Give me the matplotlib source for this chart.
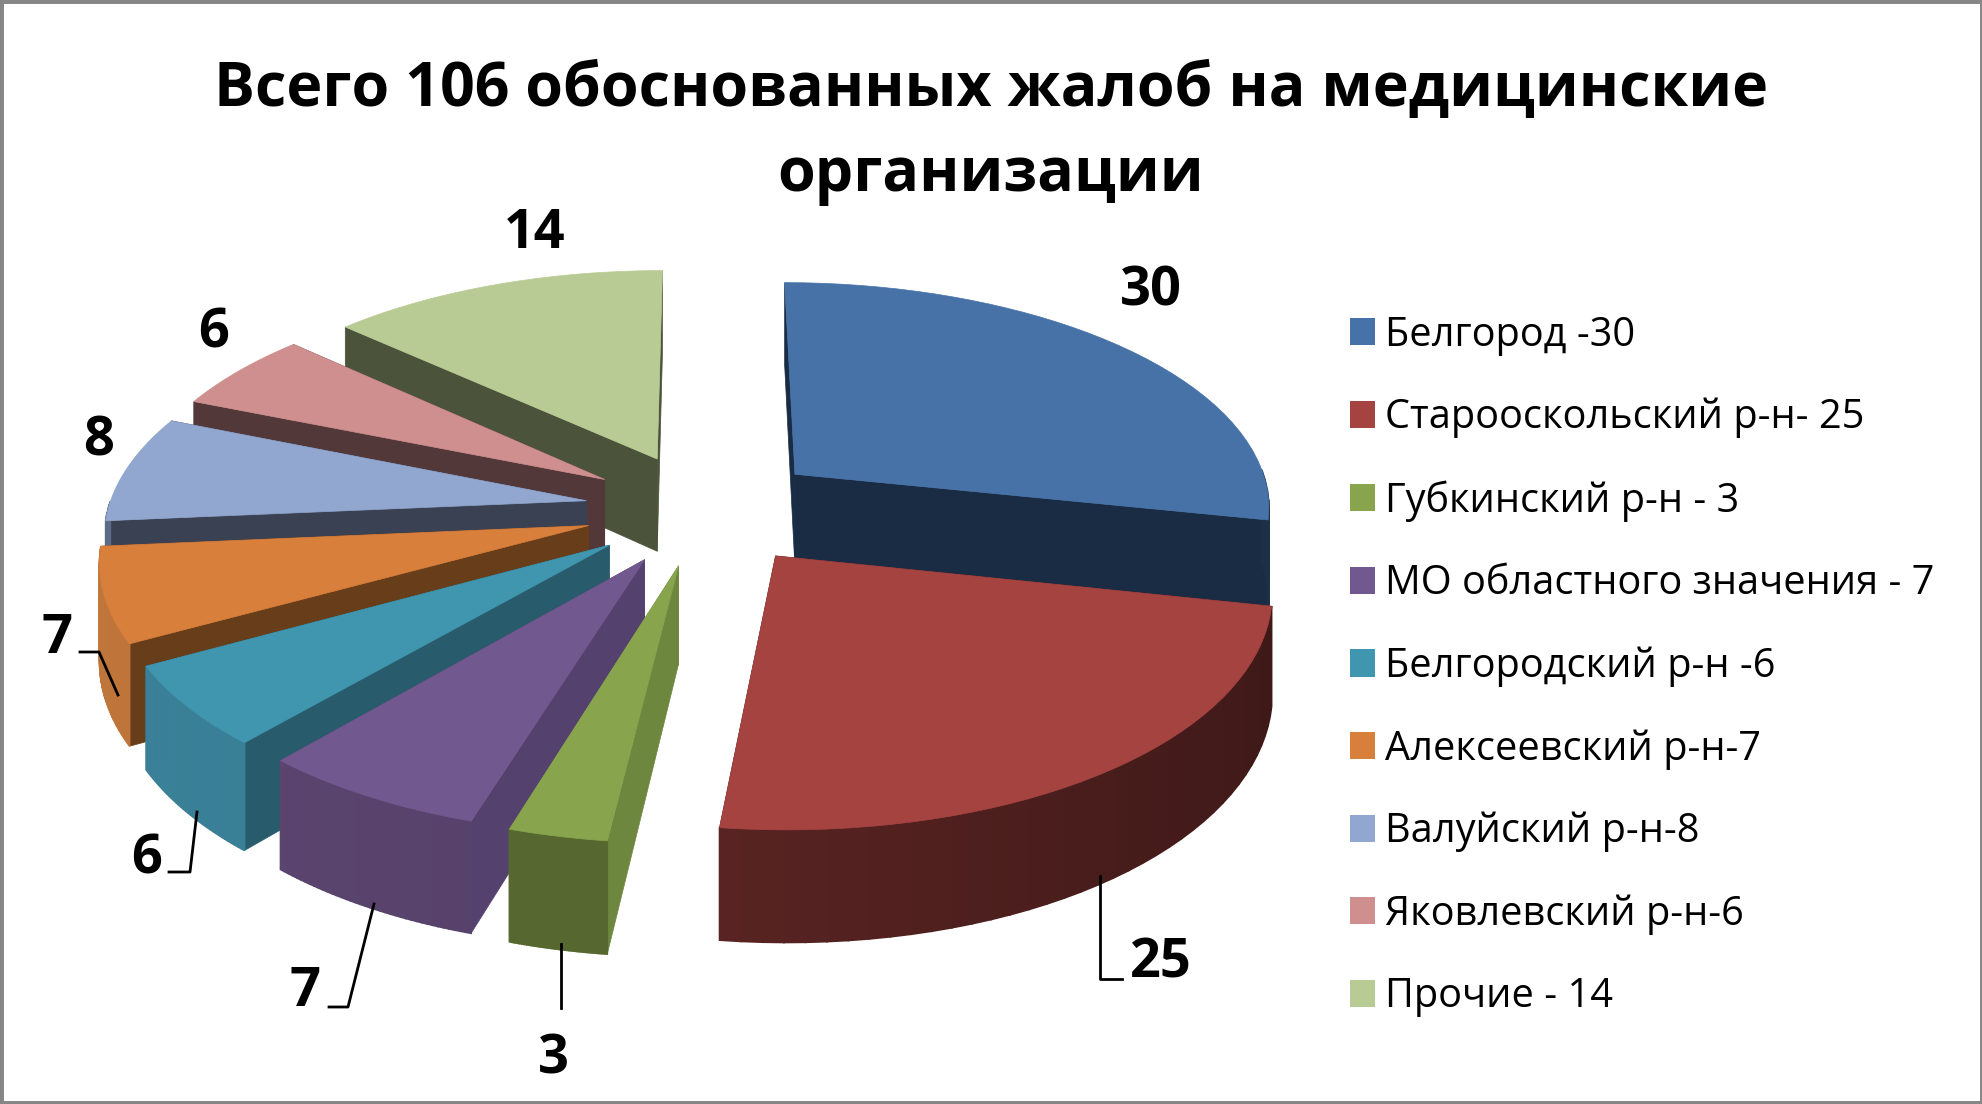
import numpy as np
import matplotlib
matplotlib.use("Agg")
import matplotlib.pyplot as plt
from matplotlib.patches import Polygon, Patch, Rectangle
from matplotlib.colors import to_rgb

title = "Всего 106 обоснованных жалоб на медицинские\nорганизации"
values = [30, 25, 3, 7, 6, 7, 8, 6, 14]
legend_names = ["Белгород -30", "Старооскольский р-н- 25", "Губкинский р-н - 3",
                "МО областного значения - 7", "Белгородский р-н -6", "Алексеевский р-н-7",
                "Валуйский р-н-8", "Яковлевский р-н-6", "Прочие - 14"]

top_colors = ["#4672A7", "#A54341", "#88A44D", "#71588E", "#4096AE", "#D87F3C", "#91A7CF", "#CF8F8E", "#B9CB94"]
side_colors = ["#192C44", "#451C1B", "#6E873E", "#55416E", "#285C6C", "#683D19", "#3A4152", "#53383A", "#4B533A"]
rim_left = ["#2C4A70", "#6E2C2A", "#5A6C32", "#5D4772", "#3A8199", "#C0763A", "#5C6B86", "#7A5352", "#6F7C5A"]
rim_right = ["#1C3048", "#3E1918", "#50622B", "#4D3960", "#357489", "#A9672F", "#505D75", "#6A4746", "#667350"]

# camera / pie shape, in image pixels
cx, cy = 704, 509
radius = 478
squash = 225
depth = 95
persp = 0.13
explode = 0.25

# where the number labels sit and their leader lines
label_pos = [(1151, 292), (1161, 964), (553, 1059), (305, 992), (147, 860), (57, 639), (99, 441), (214, 333), (535, 234)]
leaders = [None,
           [(1100, 876), (1100, 979), (1122, 979)],
           [(561, 944), (561, 1008)],
           [(374, 904), (348, 1007), (329, 1007)],
           [(197, 812), (190, 872), (169, 872)],
           [(118, 695), (99, 652), (80, 652)],
           None, None, None]


def project(x, y, z=0.0):
    w = 1 + persp * y
    return cx + radius * x / w, cy - squash * y / w + depth * z / w


def shade(a, b, t):
    a, b = np.array(to_rgb(a)), np.array(to_rgb(b))
    return tuple(a + (b - a) * t)


fig = plt.figure(figsize=(19.83, 11.04), dpi=100)
ax = fig.add_axes([0, 0, 1, 1])
ax.set_xlim(0, 1983)
ax.set_ylim(1104, 0)
ax.axis("off")
fig.patches.append(Rectangle((0, 0), 1, 1, transform=fig.transFigure, fill=False, ec="#868686", lw=5))

total = sum(values)
edges = np.cumsum([0] + values) / total * 2 * np.pi
mids = (edges[:-1] + edges[1:]) / 2

# back slices first
order = sorted(range(len(values)), key=lambda k: -np.cos(mids[k]))
for n, i in enumerate(order):
    a0, a1 = edges[i], edges[i + 1]
    ox, oy = explode * np.sin(mids[i]), explode * np.cos(mids[i])
    th = np.linspace(a0, a1, 40)
    rx, ry = ox + np.sin(th), oy + np.cos(th)
    z = n * 10

    # flat cut walls
    for a in (a0, a1):
        ex, ey = ox + np.sin(a), oy + np.cos(a)
        pts = [project(ox, oy), project(ex, ey), project(ex, ey, 1), project(ox, oy, 1)]
        ax.add_patch(Polygon(pts, fc=side_colors[i], ec=side_colors[i], lw=0.5, zorder=z))

    # rim, cut in strips so the shading can run across it; only the part facing us
    for j in range(len(th) - 1):
        if np.cos((th[j] + th[j + 1]) / 2) > 0:
            continue
        pts = [project(rx[j], ry[j]), project(rx[j + 1], ry[j + 1]),
               project(rx[j + 1], ry[j + 1], 1), project(rx[j], ry[j], 1)]
        col = shade(rim_left[i], rim_right[i], (np.sin(th[j]) + 1) / 2)
        ax.add_patch(Polygon(pts, fc=col, ec=col, lw=1.2, zorder=z + 1))

    # top face
    top = [project(ox, oy)] + [project(p, q) for p, q in zip(rx, ry)]
    ax.add_patch(Polygon(top, fc=top_colors[i], ec=top_colors[i], lw=0.5, zorder=z + 2))

for v, (lx, ly), ld in zip(values, label_pos, leaders):
    ax.text(lx, ly, str(v), fontsize=39, fontweight="bold", family="Open Sans",
            ha="center", va="center", zorder=200)
    if ld:
        ax.plot([p[0] for p in ld], [p[1] for p in ld], color="black", lw=2, zorder=199)

ax.text(991, 133, title, fontsize=43.8, fontweight="bold", family="Open Sans", ha="center", va="center",
        linespacing=1.53, zorder=200)

handles = [Patch(fc=c, ec="none") for c in top_colors]
ax.legend(handles, legend_names, loc="upper left", bbox_to_anchor=(1350 / 1983, 1 - 315 / 1104),
          frameon=False, prop={"family": "Open Sans", "size": 28.6}, handlelength=0.64, handleheight=0.68,
          handletextpad=0.25, labelspacing=1.06, borderpad=0, borderaxespad=0)

fig.savefig("out.png", dpi=100)
